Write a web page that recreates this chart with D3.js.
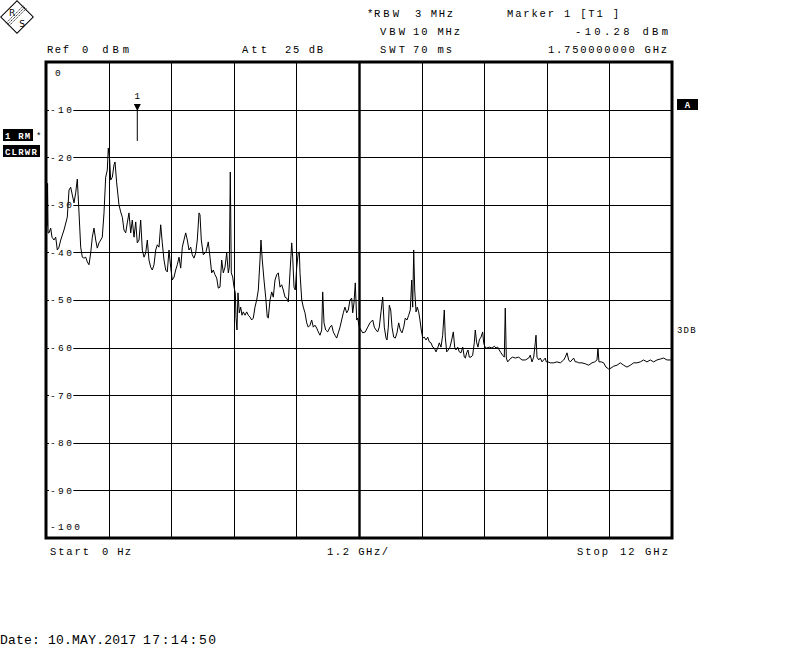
<!DOCTYPE html>
<html><head><meta charset="utf-8">
<script src="https://cdn.jsdelivr.net/npm/d3@7"></script>
<style>html,body{margin:0;padding:0;background:#fff;} svg{display:block}</style>
</head><body><svg id="c" width="799" height="663"></svg>
<script>
// ---------- data ----------
const xGridGHz = [0, 1.2, 2.4, 3.6, 4.8, 6.0, 7.2, 8.4, 9.6, 10.8, 12.0];
const yGridDbm = [0, -10, -20, -30, -40, -50, -60, -70, -80, -90, -100];
const yTickLabels = ["0", "-10", "-20", "-30", "-40", "-50", "-60", "-70", "-80", "-90", "-100"];
const markerFreqGHz = 1.75;
const markerLevelDbm = -10.28;

const freqGHz = [
 0.000,0.010,0.020,0.030,0.040,0.058,0.090,0.115,0.153,0.186,0.217,0.249,0.282,0.345,0.408,0.441,0.473,0.504,0.537,0.569,
 0.600,0.633,0.665,0.696,0.728,0.761,0.792,0.824,0.857,0.888,0.920,0.953,0.983,1.016,1.049,1.079,1.112,1.144,1.175,1.194,
 1.221,1.240,1.271,1.304,1.323,1.355,1.399,1.432,1.463,1.495,1.528,1.558,1.591,1.624,1.654,1.687,1.720,1.750,1.783,1.815,
 1.846,1.879,1.911,1.942,1.974,2.007,2.038,2.070,2.103,2.134,2.166,2.199,2.229,2.262,2.295,2.325,2.358,2.390,2.421,2.454,
 2.486,2.517,2.550,2.582,2.613,2.645,2.678,2.709,2.741,2.774,2.804,2.837,2.870,2.900,2.933,2.952,2.977,3.015,3.067,3.111,
 3.144,3.176,3.207,3.240,3.272,3.303,3.335,3.368,3.399,3.431,3.464,3.495,3.514,3.533,3.552,3.579,3.604,3.629,3.642,3.661,
 3.680,3.705,3.732,3.757,3.782,3.815,3.847,3.878,3.911,3.943,3.974,4.006,4.039,4.070,4.102,4.121,4.146,4.179,4.211,4.242,
 4.261,4.294,4.327,4.357,4.390,4.422,4.453,4.486,4.518,4.549,4.582,4.614,4.645,4.677,4.710,4.729,4.754,4.779,4.806,4.836,
 4.856,4.869,4.902,4.932,4.965,4.997,5.028,5.061,5.093,5.124,5.156,5.189,5.220,5.252,5.285,5.304,5.329,5.362,5.400,5.444,
 5.477,5.507,5.540,5.572,5.603,5.636,5.668,5.699,5.731,5.764,5.795,5.827,5.860,5.879,5.904,5.929,5.956,5.975,6.006,6.038,
 6.071,6.121,6.167,6.211,6.263,6.293,6.326,6.358,6.389,6.422,6.454,6.485,6.518,6.537,6.562,6.581,6.608,6.633,6.665,6.696,
 6.728,6.761,6.792,6.824,6.857,6.887,6.920,6.953,6.983,7.010,7.029,7.049,7.068,7.093,7.117,7.144,7.169,7.194,7.221,7.252,
 7.284,7.317,7.348,7.380,7.413,7.443,7.476,7.508,7.539,7.572,7.604,7.635,7.654,7.681,7.712,7.744,7.777,7.808,7.834,7.859,
 7.892,7.923,7.955,7.988,8.019,8.038,8.064,8.089,8.114,8.147,8.179,8.210,8.229,8.256,8.281,8.306,8.339,8.371,8.390,8.415,
 8.448,8.498,8.549,8.594,8.626,8.659,8.689,8.722,8.754,8.785,8.804,8.824,8.850,8.881,8.914,8.946,8.996,9.061,9.124,9.188,
 9.253,9.283,9.316,9.349,9.379,9.393,9.412,9.444,9.475,9.508,9.540,9.571,9.590,9.623,9.667,9.732,9.795,9.859,9.924,9.955,
 9.987,10.020,10.050,10.083,10.115,10.146,10.179,10.211,10.275,10.338,10.403,10.466,10.518,10.562,10.581,10.600,10.644,10.690,10.735,10.786,
 10.831,10.882,10.946,11.009,11.074,11.137,11.201,11.265,11.329,11.392,11.456,11.520,11.584,11.648,11.712,11.776,11.840,11.904,11.968,12.000
];
const levelDbm = [
 -23.3,-27.0,-34.5,-25.5,-35.9,-35.9,-34.9,-36.8,-37.4,-36.8,-39.5,-38.9,-37.4,-35.3,-32.6,-26.9,-26.3,-27.9,-29.6,-27.5,
 -24.6,-31.7,-38.9,-41.0,-41.2,-41.0,-42.0,-42.6,-40.1,-36.8,-34.9,-37.4,-39.1,-38.0,-37.4,-36.8,-31.7,-24.2,-22.7,-18.1,
 -20.6,-24.8,-24.2,-21.6,-21.0,-25.4,-30.0,-31.5,-32.6,-35.3,-35.9,-33.8,-31.7,-35.9,-33.2,-36.8,-33.6,-38.0,-37.4,-33.2,
 -39.5,-41.0,-40.1,-37.4,-41.6,-43.1,-43.7,-42.6,-39.5,-38.4,-38.9,-34.2,-38.0,-41.6,-43.7,-44.1,-39.5,-43.1,-45.8,-45.2,
 -43.7,-42.6,-41.0,-43.3,-38.9,-37.4,-35.9,-37.4,-39.5,-38.9,-40.5,-41.2,-40.1,-37.4,-31.7,-32.1,-37.4,-40.5,-39.9,-37.8,
 -41.0,-44.3,-43.7,-44.7,-45.4,-47.5,-47.3,-41.6,-44.3,-43.1,-40.1,-44.3,-43.1,-23.1,-44.3,-45.2,-47.3,-48.5,-53.6,-56.3,
 -48.5,-52.7,-51.5,-53.2,-52.5,-53.2,-52.5,-53.2,-53.6,-54.2,-53.8,-51.5,-50.0,-47.9,-41.6,-37.4,-41.6,-45.8,-49.4,-53.6,
 -53.8,-50.0,-48.3,-49.4,-45.8,-44.7,-44.3,-47.3,-46.8,-47.9,-49.4,-49.6,-50.4,-44.3,-38.0,-41.0,-47.3,-47.9,-43.1,-40.1,
 -39.9,-44.3,-50.0,-51.5,-52.7,-54.8,-55.7,-55.3,-54.2,-55.7,-55.3,-55.9,-56.7,-57.4,-56.3,-48.3,-54.8,-56.3,-56.7,-55.7,
 -55.3,-56.7,-57.4,-58.0,-56.9,-55.7,-54.2,-52.7,-51.5,-52.7,-52.1,-50.0,-49.6,-52.7,-50.6,-46.4,-54.2,-53.8,-55.7,-56.3,
 -56.9,-56.7,-55.7,-54.8,-54.2,-55.7,-56.3,-56.7,-55.7,-52.5,-49.4,-55.7,-58.0,-58.4,-55.7,-51.1,-52.1,-55.7,-57.8,-58.0,
 -56.9,-54.8,-56.3,-56.9,-55.7,-53.8,-54.2,-53.2,-52.1,-45.8,-51.5,-39.5,-47.9,-52.5,-51.5,-52.5,-54.2,-56.3,-58.0,-57.8,
 -58.4,-57.8,-58.8,-59.0,-59.9,-60.1,-60.9,-60.1,-59.0,-59.9,-57.4,-52.1,-57.8,-60.9,-60.5,-59.9,-58.4,-56.7,-59.9,-60.5,
 -59.9,-60.9,-61.1,-59.9,-62.0,-62.2,-61.1,-60.5,-62.0,-62.0,-61.6,-59.0,-56.3,-59.0,-59.9,-58.4,-57.8,-56.7,-59.0,-59.9,
 -60.1,-59.9,-60.1,-59.7,-60.1,-59.9,-60.5,-61.1,-61.6,-62.0,-51.7,-62.2,-63.0,-62.6,-62.2,-62.0,-62.2,-62.0,-62.6,-62.6,
 -62.2,-61.6,-63.0,-62.0,-59.0,-57.4,-62.0,-62.6,-62.2,-63.0,-62.6,-62.2,-63.0,-63.0,-63.2,-63.2,-63.0,-63.2,-62.6,-62.0,
 -61.1,-62.6,-63.0,-62.6,-62.2,-63.0,-63.0,-63.2,-63.2,-63.4,-63.7,-63.2,-63.0,-62.6,-60.1,-63.0,-63.0,-63.2,-64.1,-64.5,
 -64.3,-63.9,-63.7,-63.2,-63.7,-64.1,-63.7,-63.2,-63.2,-63.0,-62.6,-63.0,-62.6,-63.0,-62.6,-62.4,-62.2,-62.6,-62.6,-62.6
];

// ---------- drawing ----------
const svg = d3.select("#c");
const x = d3.scaleLinear().domain([0, 12]).range([46, 672]);
const y = d3.scaleLinear().domain([-100, 0]).range([538, 62]);
const MONO = "'Liberation Mono','DejaVu Sans Mono',monospace";

function txt(parent, s, px, py, opts = {}) {
  const t = parent.append("text").attr("x", px).attr("y", py)
    .attr("font-family", MONO).attr("font-size", opts.size || 10.5)
    .attr("letter-spacing", opts.ls === undefined ? 0 : opts.ls)
    .attr("fill", opts.fill || "#000")
    .attr("text-anchor", opts.anchor || "start")
    .attr("font-weight", opts.weight || "normal")
    .text(s);
  if (opts.len) t.attr("textLength", opts.len).attr("lengthAdjust", "spacing");
  return t;
}

// R&S logo
const logo = svg.append("g").attr("transform", "translate(17,17)");
logo.append("rect").attr("x", -11.5).attr("y", -11.5).attr("width", 23).attr("height", 23)
  .attr("transform", "rotate(45)").attr("fill", "#fff").attr("stroke", "#000").attr("stroke-width", 1);
[-2, 0, 2].forEach(o => {
  logo.append("line").attr("x1", 8 + o * 0.7).attr("y1", -10 + o * 0.7).attr("x2", -10 + o * 0.7).attr("y2", 8 + o * 0.7)
    .attr("stroke", "#000").attr("stroke-width", 0.8).attr("stroke-dasharray", "1.5,0.8");
});
logo.append("text").attr("x", -5).attr("y", -1).attr("font-family", "'DejaVu Sans',sans-serif")
  .attr("font-size", 9).attr("text-anchor", "middle").text("R");
logo.append("text").attr("x", 5).attr("y", 10).attr("font-family", "'DejaVu Sans',sans-serif")
  .attr("font-size", 9).attr("text-anchor", "middle").text("S");

// header
txt(svg, "*", 367, 17);
txt(svg, "RBW", 374, 17, { len: 25 });
txt(svg, "3 MHz", 415, 17, { len: 38 });
txt(svg, "VBW", 380, 35, { len: 25 });
txt(svg, "10 MHz", 413, 35, { len: 47 });
txt(svg, "SWT", 380, 52.5, { len: 25 });
txt(svg, "70 ms", 413, 52.5, { len: 39 });
txt(svg, "Marker 1 [T1 ]", 507, 17, { len: 112 });
txt(svg, "-10.28 dBm", 575, 35, { len: 93 });
txt(svg, "1.750000000 GHz", 548, 52.5, { len: 119 });
txt(svg, "Ref", 47, 52.5, { len: 22 });
txt(svg, "0 dBm", 82, 52.5, { len: 47 });
txt(svg, "Att", 242, 52.5, { len: 25 });
txt(svg, "25 dB", 285, 52.5, { len: 38 });

// grid
const grid = svg.append("g");
grid.selectAll("line.v").data(xGridGHz.slice(1, -1)).join("line")
  .attr("x1", d => Math.round(x(d)) + 0.5).attr("x2", d => Math.round(x(d)) + 0.5)
  .attr("y1", y(0)).attr("y2", y(-100))
  .attr("stroke", "#000").attr("stroke-width", d => Math.abs(d - 6) < 1e-9 ? 2.4 : 1);
grid.selectAll("line.h").data(yGridDbm.slice(1, -1)).join("line")
  .attr("x1", x(0)).attr("x2", x(12))
  .attr("y1", d => Math.round(y(d)) + 0.5).attr("y2", d => Math.round(y(d)) + 0.5)
  .attr("stroke", "#000").attr("stroke-width", 1);

// y labels with white background
yGridDbm.forEach((v, i) => {
  let py = y(v);
  if (i === 0) py = y(v) + 11;
  if (i === yGridDbm.length - 1) py = y(v) - 11;
  const px = i === 0 ? 55 : 50;
  const g = svg.append("g");
  const r = g.append("rect").attr("fill", "#fff");
  const t = txt(g, yTickLabels[i], px, py + 3.3, { size: 9.5, ls: 2.4 });
  const bb = t.node().getBBox();
  r.attr("x", bb.x - 1).attr("y", py - 4).attr("width", bb.width).attr("height", 8);
});

// frame
svg.append("rect").attr("x", x(0)).attr("y", y(0)).attr("width", x(12) - x(0)).attr("height", y(-100) - y(0))
  .attr("fill", "none").attr("stroke", "#000").attr("stroke-width", 3);

// trace
const pts = freqGHz.map((f, i) => [f, levelDbm[i]]);
svg.append("path").datum(pts)
  .attr("d", d3.line().x(d => x(d[0])).y(d => y(d[1])))
  .attr("fill", "none").attr("stroke", "#000").attr("stroke-width", 1).attr("stroke-linejoin", "miter");

// marker
const mx = x(markerFreqGHz), my = y(markerLevelDbm);
svg.append("path").attr("d", `M${mx - 3.5},${my - 7} L${mx + 3.5},${my - 7} L${mx},${my} Z`).attr("fill", "#000");
svg.append("line").attr("x1", mx).attr("x2", mx).attr("y1", my).attr("y2", my + 30).attr("stroke", "#000").attr("stroke-width", 1);
txt(svg, "1", mx, my - 12, { size: 9, anchor: "middle" });

// left side boxes
svg.append("rect").attr("x", 3).attr("y", 129).attr("width", 30).attr("height", 12).attr("fill", "#000");
txt(svg, "1 RM", 5, 138.5, { size: 9, ls: 1.2, fill: "#fff", weight: "bold" });
txt(svg, "*", 36, 139, { size: 9 });
svg.append("rect").attr("x", 3).attr("y", 145).attr("width", 37).attr("height", 12).attr("fill", "#000");
txt(svg, "CLRWR", 5, 154.5, { size: 9, ls: 1.2, fill: "#fff", weight: "bold" });

// right side
svg.append("rect").attr("x", 677).attr("y", 99).attr("width", 21).attr("height", 11).attr("fill", "#000");
txt(svg, "A", 687.5, 108, { size: 9, fill: "#fff", anchor: "middle", weight: "bold" });
txt(svg, "3DB", 677, 333, { size: 9, ls: 1.2 });

// bottom
txt(svg, "Start", 50, 554.5, { len: 39 });
txt(svg, "0 Hz", 102, 554.5, { len: 29 });
txt(svg, "1.2 GHz/", 327, 554.5, { len: 61 });
txt(svg, "Stop", 577, 554.5, { len: 31 });
txt(svg, "12 GHz", 620, 554.5, { len: 48 });
txt(svg, "Date: 10.MAY.2017", 0, 643.5, { size: 13, len: 136 });
txt(svg, "17:14:50", 143, 643.5, { size: 13, len: 73 });
</script></body></html>
